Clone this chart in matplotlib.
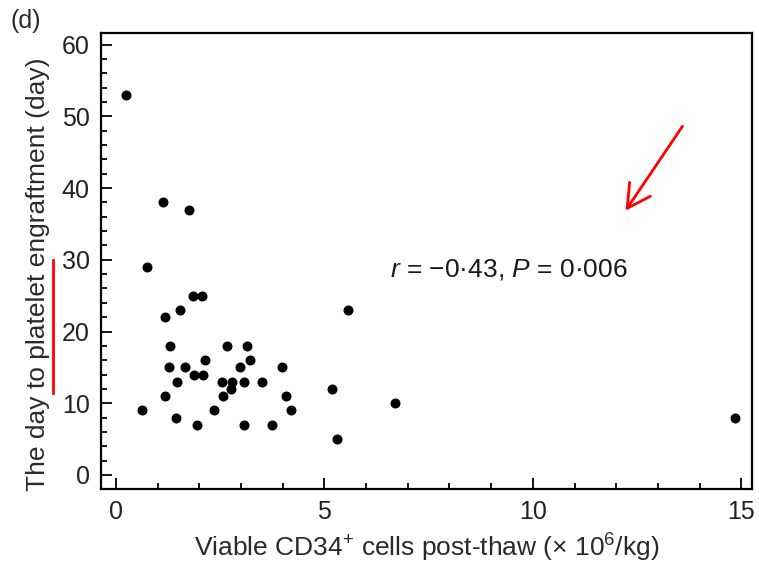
import matplotlib
matplotlib.use("Agg")
import matplotlib.pyplot as plt
from matplotlib.ticker import MultipleLocator

plt.rcParams['font.family'] = ['Liberation Sans', 'DejaVu Sans']
plt.rcParams['mathtext.fontset'] = 'custom'
plt.rcParams['mathtext.rm'] = 'Liberation Sans'
plt.rcParams['mathtext.it'] = 'Liberation Sans:italic'

# viable CD34+ cells post-thaw (x10^6/kg) vs day to platelet engraftment
cd34 = [0.24, 0.74, 1.12, 1.75, 14.85,
        1.84, 2.06, 1.54, 1.18, 5.56,
        1.30, 2.67, 3.14, 2.13, 3.22,
        1.28, 1.66, 2.98, 3.98, 1.46,
        1.86, 2.09, 2.54, 2.78, 3.06,
        3.50, 2.75, 5.18, 1.18, 2.56,
        4.08, 6.70, 0.63, 2.34, 4.19,
        1.44, 1.94, 3.07, 3.75, 5.31]
days = [53, 29, 38, 37, 8,
        25, 25, 23, 22, 23,
        18, 18, 18, 16, 16,
        15, 15, 15, 15, 13,
        14, 14, 13, 13, 13,
        13, 12, 12, 11, 11,
        11, 10, 9, 9, 9,
        8, 7, 7, 7, 5]

stat_text = "$r$ = \u22120\u00b743, $P$ = 0\u00b7006"

fig = plt.figure(figsize=(7.59, 5.63), dpi=100)
ax = fig.add_axes([0.133, 0.131, 0.858, 0.810])

ax.plot(cd34, days, 'o', color='black', markersize=7.2, markeredgewidth=0)

ax.set_xlim(-0.36, 15.26)
ax.set_ylim(-2, 61.6)
ax.xaxis.set_major_locator(MultipleLocator(5))
ax.xaxis.set_minor_locator(MultipleLocator(1))
ax.yaxis.set_major_locator(MultipleLocator(10))
ax.yaxis.set_minor_locator(MultipleLocator(2))
ax.tick_params(which='both', direction='in', top=False, right=False,
               labelsize=18, width=1.3, colors='black', labelcolor='#222222')
ax.tick_params(which='major', length=8, pad=8)
ax.tick_params(which='minor', length=4.5)
for s in ax.spines.values():
    s.set_linewidth(1.6)

ax.set_xlabel("Viable CD34$^{+}$ cells post-thaw (\u00d7 10$^{6}$/kg)",
              fontsize=19, color='#2a2a2a', labelpad=5)
ax.set_ylabel("The day to platelet engraftment (day)", fontsize=19,
              color='#2a2a2a')
ax.yaxis.set_label_coords(-0.079, 0.472)

ax.text(6.58, 28.6, stat_text, fontsize=19, va='center', ha='left',
        color='#1a1a1a')

fig.text(0.014, 0.962, "(d)", fontsize=18, ha='left', va='center',
         color='#2a2a2a')

# red markup drawn on top of the figure
fig.add_artist(plt.Line2D([53 / 759, 53 / 759], [1 - 260 / 563, 1 - 393 / 563],
                          color='red', linewidth=2, transform=fig.transFigure))
fig.patches.append(matplotlib.patches.FancyArrowPatch(
    (684 / 759, 1 - 124 / 563), (624 / 759, 1 - 213 / 563),
    transform=fig.transFigure, arrowstyle='->,head_length=11,head_width=6',
    color='red', linewidth=2, mutation_scale=1.5))

fig.savefig("out.png", dpi=100)
